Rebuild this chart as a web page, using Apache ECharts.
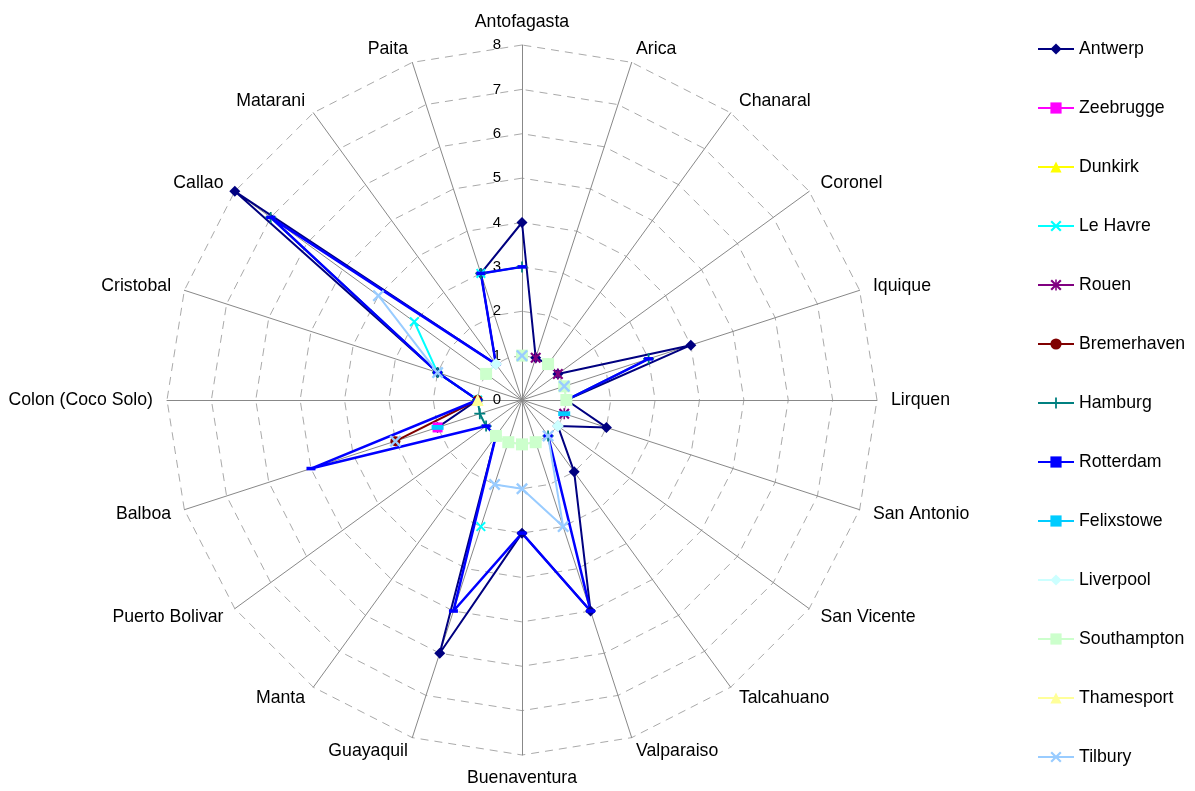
<!DOCTYPE html>
<html>
<head>
<meta charset="utf-8">
<script src="https://cdn.jsdelivr.net/npm/echarts@6/dist/echarts.min.js"></script>
<style>
  html, body { margin: 0; padding: 0; background: #fff; }
  #chart { width: 1195px; height: 791px; }
</style>
</head>
<body>
<div id="chart"></div>
<script>
// ports, clockwise from the top
var ports = ['Antofagasta', 'Arica', 'Chanaral', 'Coronel', 'Iquique', 'Lirquen', 'San Antonio',
  'San Vicente', 'Talcahuano', 'Valparaiso', 'Buenaventura', 'Guayaquil', 'Manta', 'Puerto Bolivar',
  'Balboa', 'Colon (Coco Solo)', 'Cristobal', 'Callao', 'Matarani', 'Paita'];
var ticks = [0, 1, 2, 3, 4, 5, 6, 7, 8];

// null = no value (gap in the line)
var antwerp     = [4, 1, 1, 1, 4, 1, 2, 1, 2, 5, 3, 6, 1, null, 2, 1, 2, 8, 1, 3];
var zeebrugge   = [null, null, null, null, null, null, null, null, null, null, null, null, null, null, 2, null, null, null, null, null];
var dunkirk     = [null, null, null, null, null, null, null, null, null, null, null, null, null, null, null, 1, null, null, null, null];
var leHavre     = [null, null, null, null, null, null, null, null, null, null, null, 3, null, null, null, 1, 2, 3, null, 3];
var rouen       = [null, 1, null, 1, null, null, 1, null, null, null, null, null, null, null, null, null, null, null, null, null];
var bremerhaven = [null, null, null, null, null, null, null, null, null, null, null, null, null, null, 3, 1, null, null, null, null];
var hamburg     = [3, null, null, null, 3, 1, null, null, 1, null, null, null, null, 1, 1, 1, 2, 7, null, 3];
var rotterdam   = [3, null, null, null, 3, 1, null, null, 1, 5, 3, 5, 1, 1, 5, 1, 2, 7, 1, 3];
var felixstowe  = [null, null, null, null, null, null, 1, null, null, null, null, null, null, null, 2, null, null, null, null, null];
var liverpool   = [null, null, null, null, null, null, null, 1, null, null, null, null, null, null, null, null, null, 1, 1, null];
var southampton = [1, null, 1, null, 1, 1, null, null, null, 1, 1, 1, 1, null, null, null, null, 1, null, null];
var thamesport  = [null, null, null, null, null, null, null, null, null, null, null, null, null, null, null, 1, null, null, null, null];
var tilbury     = [1, null, null, null, 1, null, null, null, 1, 3, 2, 2, null, null, 3, null, 2, 4, null, null];

var X_PATH = 'path://M0,1.4L1.4,0L5,3.6L8.6,0L10,1.4L6.4,5L10,8.6L8.6,10L5,6.4L1.4,10L0,8.6L3.6,5Z';
var PLUS_PATH = 'path://M4.2,0H5.8V4.2H10V5.8H5.8V10H4.2V5.8H0V4.2H4.2Z';
var STAR_PATH = 'path://M0,1.4L1.4,0L4.3,2.9V0H5.7V2.9L8.6,0L10,1.4L6.4,5L10,8.6L8.6,10L5.7,7.1V10H4.3V7.1L1.4,10L0,8.6L3.6,5Z';
var DASH_PATH = 'path://M0,0H10V4H0Z';

var FONT = '"Liberation Sans", Arial, sans-serif';

function toPolar(values) {
  var pts = values.map(function (v, i) { return [v, i * 18]; });
  // close the loop back to the first port
  pts.push({ value: [values[0], 360], symbol: 'none' });
  return pts;
}

function makeSeries(name, values, color, symbol, size, width) {
  return {
    name: name,
    type: 'line',
    coordinateSystem: 'polar',
    data: toPolar(values),
    symbol: symbol,
    symbolSize: size,
    symbolKeepAspect: true,
    connectNulls: false,
    lineStyle: { color: color, width: width },
    itemStyle: { color: color },
    emphasis: { disabled: true }
  };
}

var chart = echarts.init(document.getElementById('chart'));

// radar indicators run counter-clockwise, so feed them reversed
var indicators = [ports[0]].concat(ports.slice(1).reverse()).map(function (p, i) {
  var ind = { name: p, min: 0, max: 8 };
  if (i === 0) {
    ind.axisLabel = { show: true, color: '#000', fontSize: 15, fontFamily: FONT, margin: 21,
      formatter: function (v) { return ticks.indexOf(v) >= 0 ? String(v) : ''; } };
  }
  return ind;
});

chart.setOption({
  animation: false,
  backgroundColor: '#fff',
  legend: {
    orient: 'vertical',
    left: 1032,
    top: 34,
    itemWidth: 36,
    itemHeight: 14,
    itemGap: 39,
    textStyle: { color: '#000', fontSize: 17.7, fontFamily: FONT, lineHeight: 20 },
    data: ['Antwerp', 'Zeebrugge', 'Dunkirk', 'Le Havre', 'Rouen', 'Bremerhaven', 'Hamburg',
      'Rotterdam', 'Felixstowe', 'Liverpool', 'Southampton', 'Thamesport', 'Tilbury']
  },
  radar: {
    center: [522, 400],
    radius: 355,
    startAngle: 90,
    shape: 'polygon',
    splitNumber: 8,
    nameGap: 14,
    axisName: { color: '#000', fontSize: 17.7, fontFamily: FONT },
    axisLine: { lineStyle: { color: '#888', width: 1 } },
    axisTick: { show: false },
    axisLabel: { show: false },
    splitLine: { lineStyle: { color: '#aaa', width: 1, type: [8, 6] } },
    splitArea: { show: false },
    indicator: indicators
  },
  polar: { center: [522, 400], radius: 355 },
  angleAxis: { type: 'value', min: 0, max: 360, startAngle: 90, clockwise: true, show: false },
  radiusAxis: { min: 0, max: 8, show: false },
  series: [
    makeSeries('Antwerp', antwerp, '#000080', 'diamond', 11, 2),
    makeSeries('Zeebrugge', zeebrugge, '#FF00FF', 'rect', 10, 2),
    makeSeries('Dunkirk', dunkirk, '#FFFF00', 'triangle', 11, 2),
    makeSeries('Le Havre', leHavre, '#00FFFF', X_PATH, 10, 2),
    makeSeries('Rouen', rouen, '#800080', STAR_PATH, 11, 2),
    makeSeries('Bremerhaven', bremerhaven, '#800000', 'circle', 10, 2),
    makeSeries('Hamburg', hamburg, '#008080', PLUS_PATH, 11, 2),
    makeSeries('Rotterdam', rotterdam, '#0000FF', DASH_PATH, 9, 2.5),
    makeSeries('Felixstowe', felixstowe, '#00CCFF', DASH_PATH, 12, 3),
    makeSeries('Liverpool', liverpool, '#CCFFFF', 'diamond', 12, 2),
    makeSeries('Southampton', southampton, '#CCFFCC', 'rect', 12, 2),
    makeSeries('Thamesport', thamesport, '#FFFF99', 'triangle', 12, 2),
    makeSeries('Tilbury', tilbury, '#99CCFF', X_PATH, 12, 2)
  ]
});
</script>
</body>
</html>
